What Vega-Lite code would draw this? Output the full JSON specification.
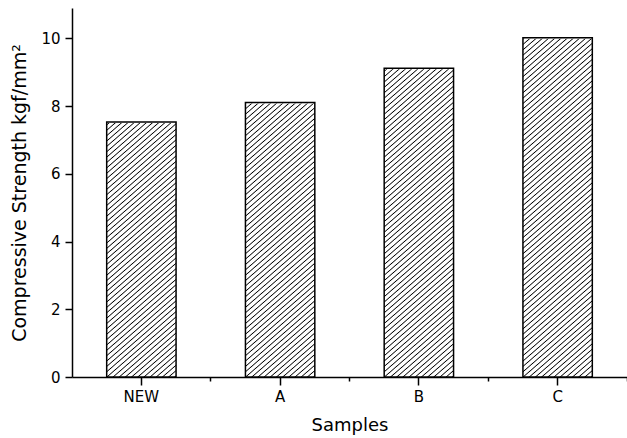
{
  "$schema": "https://vega.github.io/schema/vega-lite/v6.json",
  "width": 555,
  "height": 369,
  "autosize": {"type": "none"},
  "padding": {"left": 72, "top": 8, "right": 0, "bottom": 61},
  "background": "white",
  "config": {"view": {"stroke": null}, "font": "DejaVu Sans"},
  "data": {"values": [
    {"sample": "NEW", "value": 7.53},
    {"sample": "A", "value": 8.11},
    {"sample": "B", "value": 9.12},
    {"sample": "C", "value": 10.02}
  ]},
  "resolve": {"axis": {"x": "independent"}},
  "layer": [
    {
      "mark": {"type": "bar", "fill": {"gradient": "linear", "x1": 0, "y1": 0, "x2": 0.1851, "y2": 1.1331, "stops": [
        {"offset":0,"color":"#fff"},{"offset":0.0075,"color":"#fff"},{"offset":0.01,"color":"#000"},{"offset":0.0125,"color":"#fff"},{"offset":0.02,"color":"#fff"},{"offset":0.0225,"color":"#000"},{"offset":0.025,"color":"#fff"},{"offset":0.0325,"color":"#fff"},{"offset":0.035,"color":"#000"},{"offset":0.0375,"color":"#fff"},{"offset":0.045,"color":"#fff"},{"offset":0.0475,"color":"#000"},
        {"offset":0.05,"color":"#fff"},{"offset":0.0575,"color":"#fff"},{"offset":0.06,"color":"#000"},{"offset":0.0625,"color":"#fff"},{"offset":0.07,"color":"#fff"},{"offset":0.0725,"color":"#000"},{"offset":0.075,"color":"#fff"},{"offset":0.0825,"color":"#fff"},{"offset":0.085,"color":"#000"},{"offset":0.0875,"color":"#fff"},{"offset":0.095,"color":"#fff"},{"offset":0.0975,"color":"#000"},
        {"offset":0.1,"color":"#fff"},{"offset":0.1075,"color":"#fff"},{"offset":0.11,"color":"#000"},{"offset":0.1125,"color":"#fff"},{"offset":0.12,"color":"#fff"},{"offset":0.1225,"color":"#000"},{"offset":0.125,"color":"#fff"},{"offset":0.1325,"color":"#fff"},{"offset":0.135,"color":"#000"},{"offset":0.1375,"color":"#fff"},{"offset":0.145,"color":"#fff"},{"offset":0.1475,"color":"#000"},
        {"offset":0.15,"color":"#fff"},{"offset":0.1575,"color":"#fff"},{"offset":0.16,"color":"#000"},{"offset":0.1625,"color":"#fff"},{"offset":0.17,"color":"#fff"},{"offset":0.1725,"color":"#000"},{"offset":0.175,"color":"#fff"},{"offset":0.1825,"color":"#fff"},{"offset":0.185,"color":"#000"},{"offset":0.1875,"color":"#fff"},{"offset":0.195,"color":"#fff"},{"offset":0.1975,"color":"#000"},
        {"offset":0.2,"color":"#fff"},{"offset":0.2075,"color":"#fff"},{"offset":0.21,"color":"#000"},{"offset":0.2125,"color":"#fff"},{"offset":0.22,"color":"#fff"},{"offset":0.2225,"color":"#000"},{"offset":0.225,"color":"#fff"},{"offset":0.2325,"color":"#fff"},{"offset":0.235,"color":"#000"},{"offset":0.2375,"color":"#fff"},{"offset":0.245,"color":"#fff"},{"offset":0.2475,"color":"#000"},
        {"offset":0.25,"color":"#fff"},{"offset":0.2575,"color":"#fff"},{"offset":0.26,"color":"#000"},{"offset":0.2625,"color":"#fff"},{"offset":0.27,"color":"#fff"},{"offset":0.2725,"color":"#000"},{"offset":0.275,"color":"#fff"},{"offset":0.2825,"color":"#fff"},{"offset":0.285,"color":"#000"},{"offset":0.2875,"color":"#fff"},{"offset":0.295,"color":"#fff"},{"offset":0.2975,"color":"#000"},
        {"offset":0.3,"color":"#fff"},{"offset":0.3075,"color":"#fff"},{"offset":0.31,"color":"#000"},{"offset":0.3125,"color":"#fff"},{"offset":0.32,"color":"#fff"},{"offset":0.3225,"color":"#000"},{"offset":0.325,"color":"#fff"},{"offset":0.3325,"color":"#fff"},{"offset":0.335,"color":"#000"},{"offset":0.3375,"color":"#fff"},{"offset":0.345,"color":"#fff"},{"offset":0.3475,"color":"#000"},
        {"offset":0.35,"color":"#fff"},{"offset":0.3575,"color":"#fff"},{"offset":0.36,"color":"#000"},{"offset":0.3625,"color":"#fff"},{"offset":0.37,"color":"#fff"},{"offset":0.3725,"color":"#000"},{"offset":0.375,"color":"#fff"},{"offset":0.3825,"color":"#fff"},{"offset":0.385,"color":"#000"},{"offset":0.3875,"color":"#fff"},{"offset":0.395,"color":"#fff"},{"offset":0.3975,"color":"#000"},
        {"offset":0.4,"color":"#fff"},{"offset":0.4075,"color":"#fff"},{"offset":0.41,"color":"#000"},{"offset":0.4125,"color":"#fff"},{"offset":0.42,"color":"#fff"},{"offset":0.4225,"color":"#000"},{"offset":0.425,"color":"#fff"},{"offset":0.4325,"color":"#fff"},{"offset":0.435,"color":"#000"},{"offset":0.4375,"color":"#fff"},{"offset":0.445,"color":"#fff"},{"offset":0.4475,"color":"#000"},
        {"offset":0.45,"color":"#fff"},{"offset":0.4575,"color":"#fff"},{"offset":0.46,"color":"#000"},{"offset":0.4625,"color":"#fff"},{"offset":0.47,"color":"#fff"},{"offset":0.4725,"color":"#000"},{"offset":0.475,"color":"#fff"},{"offset":0.4825,"color":"#fff"},{"offset":0.485,"color":"#000"},{"offset":0.4875,"color":"#fff"},{"offset":0.495,"color":"#fff"},{"offset":0.4975,"color":"#000"},
        {"offset":0.5,"color":"#fff"},{"offset":0.5075,"color":"#fff"},{"offset":0.51,"color":"#000"},{"offset":0.5125,"color":"#fff"},{"offset":0.52,"color":"#fff"},{"offset":0.5225,"color":"#000"},{"offset":0.525,"color":"#fff"},{"offset":0.5325,"color":"#fff"},{"offset":0.535,"color":"#000"},{"offset":0.5375,"color":"#fff"},{"offset":0.545,"color":"#fff"},{"offset":0.5475,"color":"#000"},
        {"offset":0.55,"color":"#fff"},{"offset":0.5575,"color":"#fff"},{"offset":0.56,"color":"#000"},{"offset":0.5625,"color":"#fff"},{"offset":0.57,"color":"#fff"},{"offset":0.5725,"color":"#000"},{"offset":0.575,"color":"#fff"},{"offset":0.5825,"color":"#fff"},{"offset":0.585,"color":"#000"},{"offset":0.5875,"color":"#fff"},{"offset":0.595,"color":"#fff"},{"offset":0.5975,"color":"#000"},
        {"offset":0.6,"color":"#fff"},{"offset":0.6075,"color":"#fff"},{"offset":0.61,"color":"#000"},{"offset":0.6125,"color":"#fff"},{"offset":0.62,"color":"#fff"},{"offset":0.6225,"color":"#000"},{"offset":0.625,"color":"#fff"},{"offset":0.6325,"color":"#fff"},{"offset":0.635,"color":"#000"},{"offset":0.6375,"color":"#fff"},{"offset":0.645,"color":"#fff"},{"offset":0.6475,"color":"#000"},
        {"offset":0.65,"color":"#fff"},{"offset":0.6575,"color":"#fff"},{"offset":0.66,"color":"#000"},{"offset":0.6625,"color":"#fff"},{"offset":0.67,"color":"#fff"},{"offset":0.6725,"color":"#000"},{"offset":0.675,"color":"#fff"},{"offset":0.6825,"color":"#fff"},{"offset":0.685,"color":"#000"},{"offset":0.6875,"color":"#fff"},{"offset":0.695,"color":"#fff"},{"offset":0.6975,"color":"#000"},
        {"offset":0.7,"color":"#fff"},{"offset":0.7075,"color":"#fff"},{"offset":0.71,"color":"#000"},{"offset":0.7125,"color":"#fff"},{"offset":0.72,"color":"#fff"},{"offset":0.7225,"color":"#000"},{"offset":0.725,"color":"#fff"},{"offset":0.7325,"color":"#fff"},{"offset":0.735,"color":"#000"},{"offset":0.7375,"color":"#fff"},{"offset":0.745,"color":"#fff"},{"offset":0.7475,"color":"#000"},
        {"offset":0.75,"color":"#fff"},{"offset":0.7575,"color":"#fff"},{"offset":0.76,"color":"#000"},{"offset":0.7625,"color":"#fff"},{"offset":0.77,"color":"#fff"},{"offset":0.7725,"color":"#000"},{"offset":0.775,"color":"#fff"},{"offset":0.7825,"color":"#fff"},{"offset":0.785,"color":"#000"},{"offset":0.7875,"color":"#fff"},{"offset":0.795,"color":"#fff"},{"offset":0.7975,"color":"#000"},
        {"offset":0.8,"color":"#fff"},{"offset":0.8075,"color":"#fff"},{"offset":0.81,"color":"#000"},{"offset":0.8125,"color":"#fff"},{"offset":0.82,"color":"#fff"},{"offset":0.8225,"color":"#000"},{"offset":0.825,"color":"#fff"},{"offset":0.8325,"color":"#fff"},{"offset":0.835,"color":"#000"},{"offset":0.8375,"color":"#fff"},{"offset":0.845,"color":"#fff"},{"offset":0.8475,"color":"#000"},
        {"offset":0.85,"color":"#fff"},{"offset":0.8575,"color":"#fff"},{"offset":0.86,"color":"#000"},{"offset":0.8625,"color":"#fff"},{"offset":0.87,"color":"#fff"},{"offset":0.8725,"color":"#000"},{"offset":0.875,"color":"#fff"},{"offset":0.8825,"color":"#fff"},{"offset":0.885,"color":"#000"},{"offset":0.8875,"color":"#fff"},{"offset":0.895,"color":"#fff"},{"offset":0.8975,"color":"#000"},
        {"offset":0.9,"color":"#fff"},{"offset":0.9075,"color":"#fff"},{"offset":0.91,"color":"#000"},{"offset":0.9125,"color":"#fff"},{"offset":0.92,"color":"#fff"},{"offset":0.9225,"color":"#000"},{"offset":0.925,"color":"#fff"},{"offset":0.9325,"color":"#fff"},{"offset":0.935,"color":"#000"},{"offset":0.9375,"color":"#fff"},{"offset":0.945,"color":"#fff"},{"offset":0.9475,"color":"#000"},
        {"offset":0.95,"color":"#fff"},{"offset":0.9575,"color":"#fff"},{"offset":0.96,"color":"#000"},{"offset":0.9625,"color":"#fff"},{"offset":0.97,"color":"#fff"},{"offset":0.9725,"color":"#000"},{"offset":0.975,"color":"#fff"},{"offset":0.9825,"color":"#fff"},{"offset":0.985,"color":"#000"},{"offset":0.9875,"color":"#fff"},{"offset":0.995,"color":"#fff"},{"offset":0.9975,"color":"#000"},
        {"offset":1,"color":"#fff"}
      ]}},
      "encoding": {
        "x": {"field": "sample", "type": "nominal", "sort": null,
          "scale": {"paddingInner": 0.5, "paddingOuter": 0.25}, "axis": null},
        "y": {"datum": 10.9, "type": "quantitative", "scale": {"domain": [0, 10.9], "nice": false}},
        "y2": {"datum": 0}
      }
    },
    {
      "mark": {"type": "bar", "fill": "white", "stroke": "white", "strokeWidth": 2},
      "encoding": {
        "x": {"field": "sample", "type": "nominal", "sort": null,
          "scale": {"paddingInner": 0.5, "paddingOuter": 0.25},
          "axis": {"orient": "bottom", "labels": false, "domain": false, "grid": false, "title": null,
            "tickSize": 4, "tickWidth": 1.5, "tickColor": "black", "bandPosition": 1.5}},
        "y": {"field": "value", "type": "quantitative", "scale": {"domain": [0, 10.9], "nice": false}},
        "y2": {"datum": 10.9}
      }
    },
    {
      "mark": {"type": "bar", "fill": null, "stroke": "black", "strokeWidth": 1.5},
      "encoding": {
        "x": {"field": "sample", "type": "nominal", "sort": null,
          "scale": {"paddingInner": 0.5, "paddingOuter": 0.25},
          "axis": {"orient": "bottom", "title": "Samples", "labelAngle": 0, "grid": false,
            "tickSize": 8, "tickWidth": 1.5, "tickColor": "black",
            "domainColor": "black", "domainWidth": 1.5,
            "labelFontSize": 15, "labelColor": "black", "labelPadding": 4,
            "titleFontSize": 18, "titleFontWeight": "normal", "titleColor": "black", "titlePadding": 12}},
        "y": {"field": "value", "type": "quantitative", "scale": {"domain": [0, 10.9], "nice": false},
          "axis": {"title": "Compressive Strength kgf/mm²", "values": [0,1,2,3,4,5,6,7,8,9,10],
            "labelExpr": "datum.value % 2 == 0 ? datum.label : ''",
            "labelOverlap": false, "grid": false,
            "tickSize": {"condition": {"test": "datum.value % 2 == 1", "value": 4}, "value": 7},
            "tickWidth": 1.5, "tickColor": "black",
            "domainColor": "black", "domainWidth": 1.5,
            "labelFontSize": 15, "labelColor": "black", "labelPadding": 5,
            "titleFontSize": 19, "titleFontWeight": "normal", "titleColor": "black", "titlePadding": 11}}
      }
    }
  ]
}
